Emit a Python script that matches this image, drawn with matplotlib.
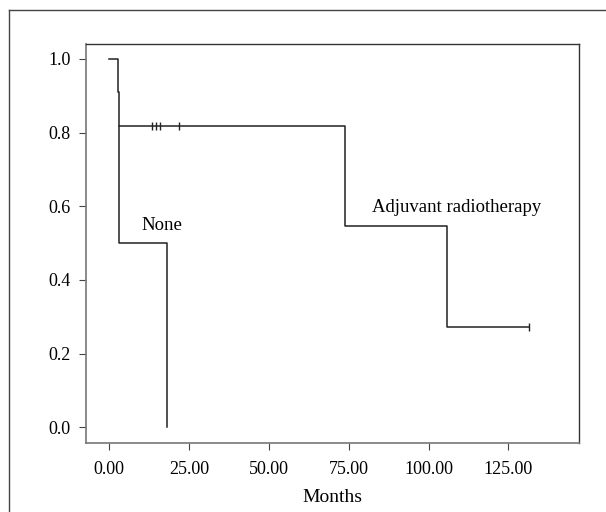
import matplotlib.pyplot as plt
from matplotlib.lines import Line2D

plt.rcParams['font.family'] = ['Liberation Serif', 'DejaVu Serif']

# Kaplan-Meier step data (months, survival)
adj_t = [0, 2.6, 3.0, 73.8, 105.7, 131.5]
adj_s = [1.0, 0.909, 0.818, 0.545, 0.273, 0.273]
adj_cens_t = [13.3, 14.5, 15.9, 21.9, 131.5]
adj_cens_s = [0.818, 0.818, 0.818, 0.818, 0.273]

none_t = [3.0, 3.0, 18.0, 18.0]
none_s = [0.818, 0.5, 0.5, 0.0]

xticks = [0, 25, 50, 75, 100, 125]
yticks = [0.0, 0.2, 0.4, 0.6, 0.8, 1.0]

fig = plt.figure(figsize=(6.06, 5.12), dpi=100)
ax = fig.add_axes([0.142, 0.135, 0.814, 0.779])

ax.step(adj_t, adj_s, where='post', color='#222222', lw=1.1)
ax.plot(none_t, none_s, color='#222222', lw=1.1)
ax.plot(adj_cens_t, adj_cens_s, '|', color='#222222', ms=6, mew=1.0)

ax.text(10.2, 0.547, "None", fontsize=13.5, va='center', ha='left')
ax.text(82.2, 0.596, "Adjuvant radiotherapy", fontsize=13.5, va='center', ha='left')

ax.set_xlim(-7.3, 147.2)
ax.set_ylim(-0.042, 1.04)
ax.set_xticks(xticks)
ax.set_xticklabels([f"{v:.2f}" for v in xticks], fontsize=13)
ax.set_yticks(yticks)
ax.set_yticklabels([f"{v:.1f}" for v in yticks], fontsize=13)
ax.set_xlabel("Months", fontsize=14, labelpad=8)
ax.tick_params(direction='out', length=5, color='#444444', pad=6)
ax.tick_params(axis='x', pad=8)

for side in ['left', 'bottom']:
    ax.spines[side].set_color('#777777')
    ax.spines[side].set_linewidth(1.2)
for side in ['top', 'right']:
    ax.spines[side].set_color('#333333')
    ax.spines[side].set_linewidth(1.0)

# outer frame of the figure panel
fig.add_artist(Line2D([8.5 / 606, 8.5 / 606], [0, 1 - 10 / 512], color='#444444', lw=1.0))
fig.add_artist(Line2D([8.5 / 606, 1.0], [1 - 10 / 512, 1 - 10 / 512], color='#444444', lw=1.0))

fig.savefig("out.png", dpi=100)
